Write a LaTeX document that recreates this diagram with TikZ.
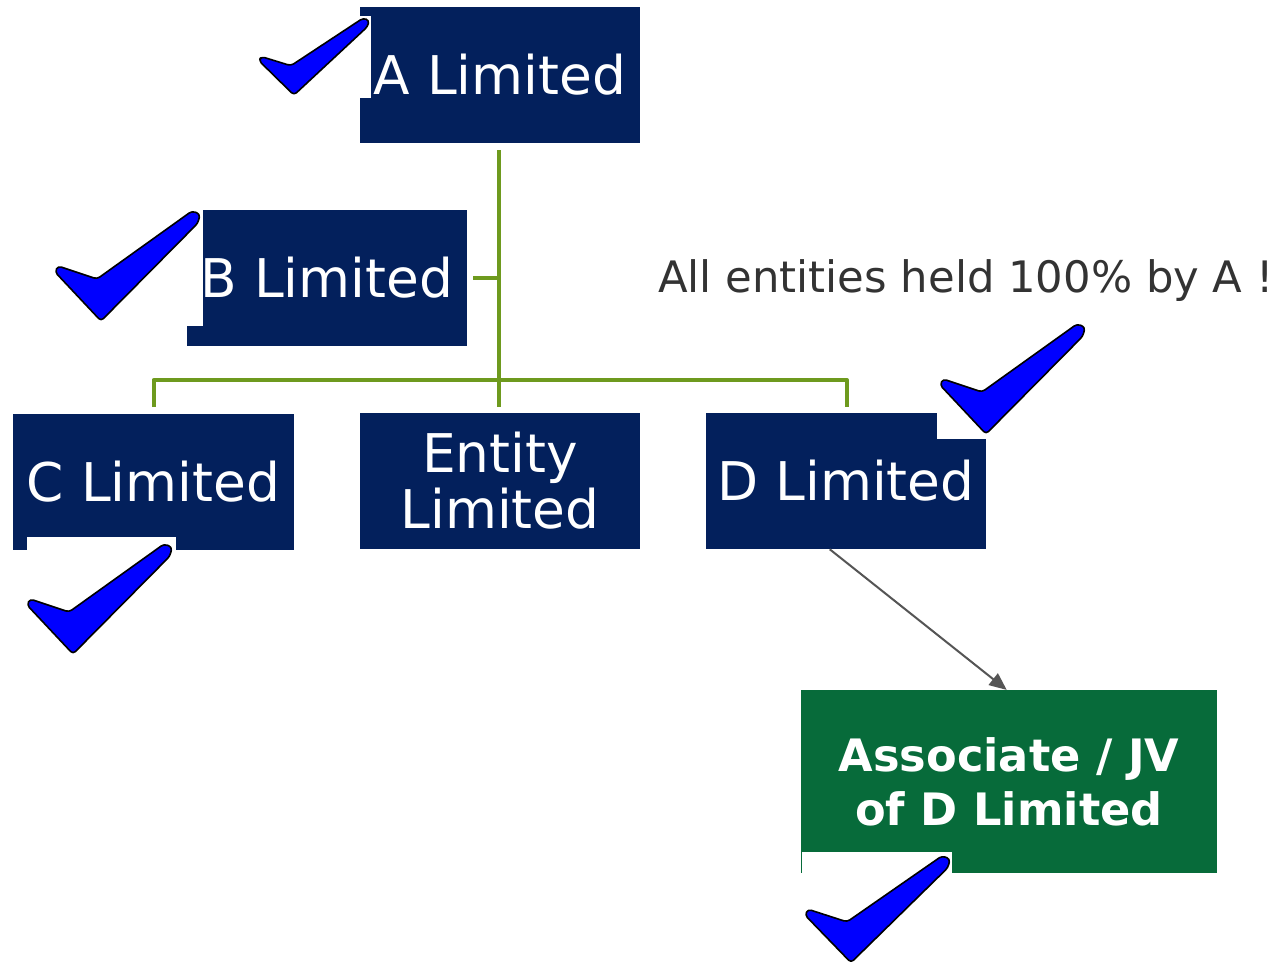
\documentclass[tikz,border=0pt]{standalone}
\usepackage{fontspec}
\setmainfont{DejaVu Sans}
\usetikzlibrary{calc,arrows.meta}

\definecolor{navy}{HTML}{03205C}
\definecolor{assocgreen}{HTML}{076B3A}
\definecolor{linkgreen}{HTML}{6E9A1E}
\definecolor{tickblue}{HTML}{0000FF}
\definecolor{notegray}{HTML}{333333}
\definecolor{arrowgray}{HTML}{555555}

\tikzset{
  entity/.style={fill=navy, text=white, inner sep=0pt, align=center,
    minimum width=210pt, minimum height=102pt,
    font=\fontsize{40}{42}\selectfont},
  assoc/.style={fill=assocgreen, text=white, inner sep=0pt, align=center,
    minimum width=312pt, minimum height=137pt,
    font=\fontsize{33.5}{40.5}\selectfont\bfseries},
  orgline/.style={draw=linkgreen, line width=3pt},
  holding/.style={draw=arrowgray, line width=1.5pt,
    -{Triangle[length=13pt,width=11pt]}},
  ticktile/.style={fill=white},
  tickmark/.pic={
    \draw[black, fill=tickblue, line width=1.2pt, line join=round, rounded corners=2.5pt]
      (3,58) -- (42,71) -- (137,3) -- (145,6) -- (143,15) -- (46,113) -- (0,64) -- cycle;
  }
}

\begin{document}
\begin{tikzpicture}[x=0.75pt, y=-0.75pt]
  \fill[white] (0,0) rectangle (1278,966);
  \useasboundingbox (0,0) rectangle (1278,966);

  % company boxes
  \node[entity] (A) at (500,75) {A Limited};
  \node[entity] (B) at (327,278) {B Limited};
  \node[entity, minimum width=210.75pt] (C) at (153.5,481.5) {C Limited};
  \node[entity] (E) at (500,481) {Entity\\Limited};
  \node[entity] (D) at (846,481) {D Limited};
  \node[assoc] (J) at (1009,781.5) {Associate / JV\\of D Limited};

  % ownership lines
  \coordinate (bus) at (499,380);
  \draw[orgline] ($(A.south)+(-1,7)$) -- (bus) -- ($(E.north)+(-1,-6)$);
  \draw[orgline] ($(B.east)+(6,0)$) -- (B.east -| bus);
  \draw[orgline, line join=round] ($(C.north)+(0,-6)$) |- (bus) -| ($(D.north)+(1,-6)$);

  % holding arrow to the associate
  \draw[holding] ($(D.south west)+(124,0)$) -- ($(J.north west)+(206,0)$);

  % note
  \node[anchor=base west, inner sep=0pt, text=notegray, font=\fontsize{32.5}{38}\selectfont]
    (note) at (658,293) {All entities held 100\% by A !};

  % tick tiles
  \fill[ticktile] (255,16) rectangle (371,98);
  \fill[ticktile] (50,205) rectangle (203,326);
  \fill[ticktile] (27,537) rectangle (176,662);
  \fill[ticktile] (937,316) rectangle (1088,439);
  \fill[ticktile] (802,852) rectangle (952,966);

  % ticks
  \pic[xscale=0.76, yscale=0.7] at (259,16) {tickmark};
  \pic at (55,208) {tickmark};
  \pic at (27,541) {tickmark};
  \pic at (940,321) {tickmark};
  \pic[yscale=0.97] at (805,853) {tickmark};
\end{tikzpicture}
\end{document}
